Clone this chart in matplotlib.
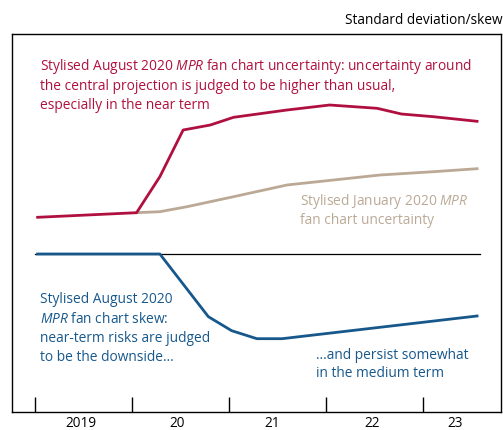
"""Stylised MPR fan chart uncertainty and skew."""

import matplotlib

matplotlib.use("Agg")

import matplotlib.pyplot as plt

plt.rcParams["font.family"] = ["Open Sans", "DejaVu Sans"]
plt.rcParams["mathtext.fontset"] = "custom"
plt.rcParams["mathtext.rm"] = "Open Sans"
plt.rcParams["mathtext.it"] = "Open Sans:italic"

RED = "#b0103f"
TAN = "#bba996"
BLUE = "#17588c"

# August 2020 uncertainty (standard deviation, stylised)
aug_unc_x = [2019.03, 2020.05, 2020.29, 2020.53, 2020.81, 2021.05, 2021.60,
             2022.04, 2022.53, 2022.78, 2023.11, 2023.56]
aug_unc_y = [3.67, 4.13, 7.73, 12.4, 12.9, 13.67, 14.4, 14.9, 14.57, 14.0,
             13.73, 13.27]

# January 2020 uncertainty
jan_unc_x = [2020.05, 2020.29, 2020.57, 2021.05, 2021.60, 2022.08, 2022.56,
             2023.11, 2023.56]
jan_unc_y = [4.13, 4.23, 4.73, 5.73, 6.9, 7.4, 7.9, 8.23, 8.53]

# August 2020 skew
aug_skew_x = [2019.03, 2020.29, 2020.79, 2021.03, 2021.29, 2021.55, 2023.56]
aug_skew_y = [0.0, 0.0, -6.27, -7.67, -8.47, -8.47, -6.2]

zero_x = [2019.0, 2023.59]
years = [2019, 2020, 2021, 2022, 2023]
year_label_pos = [2019.48, 2020.47, 2021.45, 2022.48, 2023.33]
year_labels = ["2019", "20", "21", "22", "23"]

fig = plt.figure(figsize=(5.03, 4.30), dpi=100)
ax = fig.add_axes([0.0239, 0.0419, 0.9716, 0.879])

ax.plot(zero_x, [0, 0], color="black", lw=0.9, zorder=1)
ax.plot(jan_unc_x, jan_unc_y, color=TAN, lw=2.0, zorder=2)
ax.plot(aug_unc_x, aug_unc_y, color=RED, lw=2.0, zorder=3)
ax.plot(aug_skew_x, aug_skew_y, color=BLUE, lw=2.0, zorder=3)

ax.set_xlim(2018.766, 2023.804)
ax.set_ylim(-15.8, 22.0)

ax.set_xticks(years)
ax.set_xticklabels([])
ax.tick_params(axis="x", which="major", direction="in", length=11, width=1.0)
ax.set_xticks(year_label_pos, minor=True)
ax.set_xticklabels(year_labels, minor=True, fontsize=9.8)
ax.tick_params(axis="x", which="minor", length=0, pad=3)
ax.set_yticks([])
for spine in ax.spines.values():
    spine.set_linewidth(1.0)

fig.text(0.999, 0.953, "Standard deviation/skew", ha="right", va="center",
         fontsize=9.8)

fs = 9.9
red_lines = [
    r"Stylised August 2020 $\mathit{MPR}$ fan chart uncertainty: uncertainty around",
    "the central projection is judged to be higher than usual,",
    "especially in the near term",
]
for i, line in enumerate(red_lines):
    ax.text(2019.05, 18.73 - 1.95 * i, line, color=RED, fontsize=fs, va="center")

tan_lines = [r"Stylised January 2020 $\mathit{MPR}$", "fan chart uncertainty"]
for i, line in enumerate(tan_lines):
    ax.text(2021.73, 5.23 - 1.9 * i, line, color=TAN, fontsize=fs, va="center")

blue_left = [
    "Stylised August 2020",
    r"$\mathit{MPR}$ fan chart skew:",
    "near-term risks are judged",
    "to be the downside\u2026",
]
for i, line in enumerate(blue_left):
    ax.text(2019.05, -4.6 - 1.93 * i, line, color=BLUE, fontsize=fs, va="center")

blue_right = ["\u2026and persist somewhat", "in the medium term"]
for i, line in enumerate(blue_right):
    ax.text(2021.90, -10.2 - 1.8 * i, line, color=BLUE, fontsize=fs, va="center")

fig.savefig("out.png", dpi=100)
